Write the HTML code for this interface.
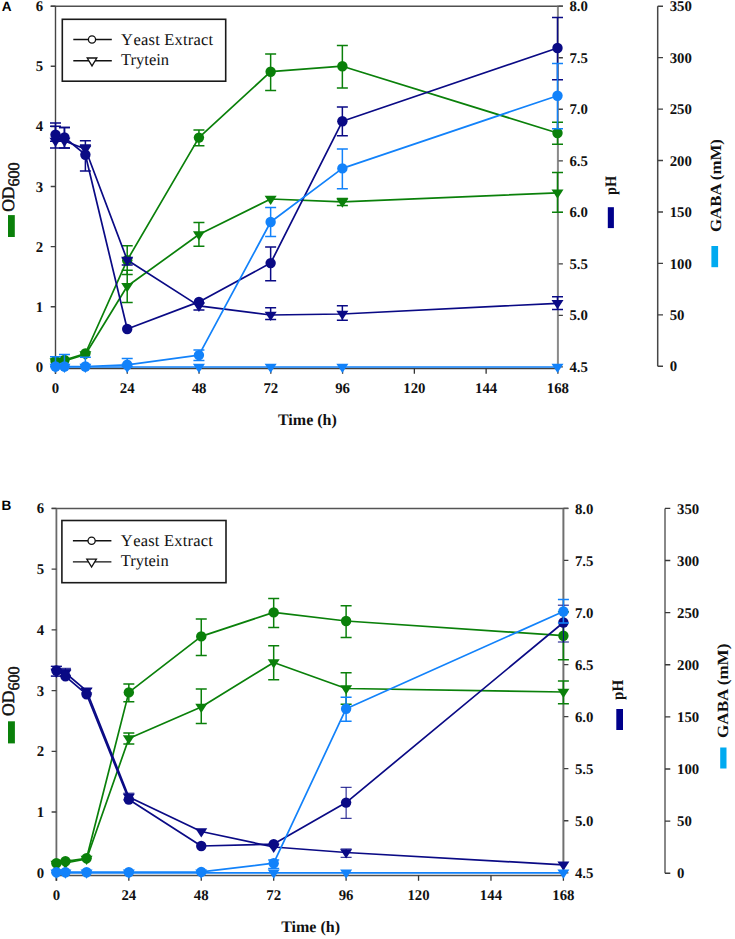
<!DOCTYPE html>
<html><head><meta charset="utf-8"><title>Chart</title>
<style>html,body{margin:0;padding:0;background:#fff;}svg{display:block;}</style>
</head><body>
<svg width="735" height="939" viewBox="0 0 735 939" text-rendering="geometricPrecision">
<rect width="735" height="939" fill="#fff"/>
<g>
<text x="1.8" y="10.8" font-family="Liberation Sans" font-weight="bold" font-size="13.6">A</text>
<path d="M50.7 6.2H557.9" stroke="#505050" stroke-width="1.5" fill="none"/>
<path d="M55.5 6.2V373.8" stroke="#454545" stroke-width="1.4" fill="none"/>
<path d="M55.5 368.5H557.9" stroke="#404040" stroke-width="1.4" fill="none"/>
<path d="M50.7 366.9H55.5M50.7 306.78H55.5M50.7 246.67H55.5M50.7 186.55H55.5M50.7 126.43H55.5M50.7 66.32H55.5M50.7 6.2H55.5" stroke="#404040" stroke-width="1.4" fill="none"/>
<path d="M55.5 368.5V373.8M127.27 368.5V373.8M199.04 368.5V373.8M270.81 368.5V373.8M342.59 368.5V373.8M414.36 368.5V373.8M486.13 368.5V373.8M557.9 368.5V373.8" stroke="#333" stroke-width="1.3" fill="none"/>
<path d="M657.7 6.2V366.3" stroke="#474747" stroke-width="1.5" fill="none"/>
<path d="M657.7 366.3H663M657.7 314.86H663M657.7 263.41H663M657.7 211.97H663M657.7 160.53H663M657.7 109.09H663M657.7 57.64H663M657.7 6.2H663" stroke="#404040" stroke-width="1.4" fill="none"/>
<path d="M557.9 6.2V368.5" stroke="#8a8a8a" stroke-width="2" fill="none"/>
<path d="M558.5 366.9H562.9M558.5 315.37H562.9M558.5 263.84H562.9M558.5 212.31H562.9M558.5 160.79H562.9M558.5 109.26H562.9M558.5 57.73H562.9M558.5 6.2H562.9" stroke="#404040" stroke-width="1.3" fill="none"/>
<path d="M557.4 6.2H562.9" stroke="#505050" stroke-width="1.5" fill="none"/>
<g font-family="Liberation Serif" font-weight="bold" font-size="14.8" fill="#111">
<text x="43.2" y="371.9" text-anchor="end">0</text>
<text x="43.2" y="311.78" text-anchor="end">1</text>
<text x="43.2" y="251.67" text-anchor="end">2</text>
<text x="43.2" y="191.55" text-anchor="end">3</text>
<text x="43.2" y="131.43" text-anchor="end">4</text>
<text x="43.2" y="71.32" text-anchor="end">5</text>
<text x="43.2" y="11.2" text-anchor="end">6</text>
<text x="569.4" y="372">4.5</text>
<text x="569.4" y="320.47">5.0</text>
<text x="569.4" y="268.94">5.5</text>
<text x="569.4" y="217.41">6.0</text>
<text x="569.4" y="165.89">6.5</text>
<text x="569.4" y="114.36">7.0</text>
<text x="569.4" y="62.83">7.5</text>
<text x="569.4" y="11.3">8.0</text>
<text x="669.7" y="371.4">0</text>
<text x="669.7" y="319.96">50</text>
<text x="669.7" y="268.51">100</text>
<text x="669.7" y="217.07">150</text>
<text x="669.7" y="165.63">200</text>
<text x="669.7" y="114.19">250</text>
<text x="669.7" y="62.74">300</text>
<text x="669.7" y="11.3">350</text>
<text x="55.5" y="393.1" text-anchor="middle">0</text>
<text x="127.27" y="393.1" text-anchor="middle">24</text>
<text x="199.04" y="393.1" text-anchor="middle">48</text>
<text x="270.81" y="393.1" text-anchor="middle">72</text>
<text x="342.59" y="393.1" text-anchor="middle">96</text>
<text x="414.36" y="393.1" text-anchor="middle">120</text>
<text x="486.13" y="393.1" text-anchor="middle">144</text>
<text x="557.9" y="393.1" text-anchor="middle">168</text>
</g>
<text x="307.4" y="424.6" font-family="Liberation Serif" font-weight="bold" font-size="16" text-anchor="middle" fill="#111">Time (h)</text>
</g>
<polyline points="55.5,361.5 64.46,361 85.38,354.5 127.21,286.3 198.93,234.5 270.64,199 342.36,201.8 557.5,192.8" fill="none" stroke="#0a800a" stroke-width="1.7" stroke-linejoin="round"/>
<path d="M127.21 270.2V302.5M121.71 270.2H132.71M121.71 302.5H132.71M198.93 222.5V246.3M193.43 222.5H204.43M193.43 246.3H204.43M342.36 198.5V205.5M336.86 198.5H347.86M336.86 205.5H347.86M557.5 172.5V212.3M552 172.5H563M552 212.3H563" stroke="#0a800a" stroke-width="1.5" fill="none"/>
<path d="M49.5 358.2H61.5L55.5 367.5Z" fill="#0a800a"/><path d="M58.46 357.7H70.46L64.46 367Z" fill="#0a800a"/><path d="M79.38 351.2H91.38L85.38 360.5Z" fill="#0a800a"/><path d="M121.21 283H133.21L127.21 292.3Z" fill="#0a800a"/><path d="M192.93 231.2H204.93L198.93 240.5Z" fill="#0a800a"/><path d="M264.64 195.7H276.64L270.64 205Z" fill="#0a800a"/><path d="M336.36 198.5H348.36L342.36 207.8Z" fill="#0a800a"/><path d="M551.5 189.5H563.5L557.5 198.8Z" fill="#0a800a"/>
<polyline points="55.5,361 64.46,360 85.38,353.5 127.21,260.2 198.93,137.6 270.64,71.7 342.36,66.2 557.5,133" fill="none" stroke="#0a800a" stroke-width="1.7" stroke-linejoin="round"/>
<path d="M127.21 245.8V274.6M121.71 245.8H132.71M121.71 274.6H132.71M198.93 130.1V145.7M193.43 130.1H204.43M193.43 145.7H204.43M270.64 54.1V90.6M265.14 54.1H276.14M265.14 90.6H276.14M342.36 45.4V87.9M336.86 45.4H347.86M336.86 87.9H347.86M557.5 122.3V144.3M552 122.3H563M552 144.3H563" stroke="#0a800a" stroke-width="1.5" fill="none"/>
<circle cx="55.5" cy="361" r="5.2" fill="#0a800a"/><circle cx="64.46" cy="360" r="5.2" fill="#0a800a"/><circle cx="85.38" cy="353.5" r="5.2" fill="#0a800a"/><circle cx="127.21" cy="260.2" r="5.2" fill="#0a800a"/><circle cx="198.93" cy="137.6" r="5.2" fill="#0a800a"/><circle cx="270.64" cy="71.7" r="5.2" fill="#0a800a"/><circle cx="342.36" cy="66.2" r="5.2" fill="#0a800a"/><circle cx="557.5" cy="133" r="5.2" fill="#0a800a"/>
<polyline points="55.5,141 64.46,141 85.38,149 127.21,260 198.93,305.9 270.64,315 342.36,314 557.5,303.3" fill="none" stroke="#0a0a85" stroke-width="1.7" stroke-linejoin="round"/>
<path d="M55.5 126.2V141.2M50 126.2H61M50 141.2H61M64.46 127.4V147.9M58.96 127.4H69.96M58.96 147.9H69.96M85.38 144.9V145.7M79.88 144.9H90.88M79.88 145.7H90.88M127.21 258V265M121.71 258H132.71M121.71 265H132.71M198.93 303V309.9M193.43 303H204.43M193.43 309.9H204.43M270.64 307.8V319.6M265.14 307.8H276.14M265.14 319.6H276.14M342.36 305.7V320.2M336.86 305.7H347.86M336.86 320.2H347.86M557.5 296.7V309.5M552 296.7H563M552 309.5H563" stroke="#0a0a85" stroke-width="1.5" fill="none"/>
<path d="M49.5 137.7H61.5L55.5 147Z" fill="#0a0a85"/><path d="M58.46 137.7H70.46L64.46 147Z" fill="#0a0a85"/><path d="M79.38 145.7H91.38L85.38 155Z" fill="#0a0a85"/><path d="M121.21 256.7H133.21L127.21 266Z" fill="#0a0a85"/><path d="M192.93 302.6H204.93L198.93 311.9Z" fill="#0a0a85"/><path d="M264.64 311.7H276.64L270.64 321Z" fill="#0a0a85"/><path d="M336.36 310.7H348.36L342.36 320Z" fill="#0a0a85"/><path d="M551.5 300H563.5L557.5 309.3Z" fill="#0a0a85"/>
<polyline points="55.5,134.8 64.46,137.5 85.38,154.7 127.21,329 198.93,301.9 270.64,263.1 342.36,121.3 557.5,48" fill="none" stroke="#0a0a85" stroke-width="1.7" stroke-linejoin="round"/>
<path d="M55.5 122.9V147.9M50 122.9H61M50 147.9H61M64.46 127.4V147.9M58.96 127.4H69.96M58.96 147.9H69.96M85.38 140.8V171.1M79.88 140.8H90.88M79.88 171.1H90.88M270.64 246.9V280.7M265.14 246.9H276.14M265.14 280.7H276.14M342.36 106.9V135.8M336.86 106.9H347.86M336.86 135.8H347.86M557.5 17.5V79.7M552 17.5H563M552 79.7H563" stroke="#0a0a85" stroke-width="1.5" fill="none"/>
<circle cx="55.5" cy="134.8" r="5.2" fill="#0a0a85"/><circle cx="64.46" cy="137.5" r="5.2" fill="#0a0a85"/><circle cx="85.38" cy="154.7" r="5.2" fill="#0a0a85"/><circle cx="127.21" cy="329" r="5.2" fill="#0a0a85"/><circle cx="198.93" cy="301.9" r="5.2" fill="#0a0a85"/><circle cx="270.64" cy="263.1" r="5.2" fill="#0a0a85"/><circle cx="342.36" cy="121.3" r="5.2" fill="#0a0a85"/><circle cx="557.5" cy="48" r="5.2" fill="#0a0a85"/>
<polyline points="55.5,367 64.46,367 85.38,367 127.21,367 198.93,367 270.64,367 342.36,367 557.5,367" fill="none" stroke="#1282fa" stroke-width="1.7" stroke-linejoin="round"/>

<path d="M49.5 363.7H61.5L55.5 373Z" fill="#1282fa"/><path d="M58.46 363.7H70.46L64.46 373Z" fill="#1282fa"/><path d="M79.38 363.7H91.38L85.38 373Z" fill="#1282fa"/><path d="M121.21 363.7H133.21L127.21 373Z" fill="#1282fa"/><path d="M192.93 363.7H204.93L198.93 373Z" fill="#1282fa"/><path d="M264.64 363.7H276.64L270.64 373Z" fill="#1282fa"/><path d="M336.36 363.7H348.36L342.36 373Z" fill="#1282fa"/><path d="M551.5 363.7H563.5L557.5 373Z" fill="#1282fa"/>
<polyline points="55.5,366.5 64.46,366.5 85.38,366.5 127.21,364.8 198.93,355.1 270.64,222 342.36,168.4 557.5,95.7" fill="none" stroke="#1282fa" stroke-width="1.7" stroke-linejoin="round"/>
<path d="M55.5 356.7V366.5M50 356.7H61M50 366.5H61M64.46 354.5V366.5M58.96 354.5H69.96M58.96 366.5H69.96M85.38 357.3V366.5M79.88 357.3H90.88M79.88 366.5H90.88M127.21 358.4V366.5M121.71 358.4H132.71M121.71 366.5H132.71M198.93 350V360.5M193.43 350H204.43M193.43 360.5H204.43M270.64 207.4V236.5M265.14 207.4H276.14M265.14 236.5H276.14M342.36 149V188.8M336.86 149H347.86M336.86 188.8H347.86M557.5 63.4V128.7M552 63.4H563M552 128.7H563" stroke="#1282fa" stroke-width="1.5" fill="none"/>
<circle cx="55.5" cy="366.5" r="5.2" fill="#1282fa"/><circle cx="64.46" cy="366.5" r="5.2" fill="#1282fa"/><circle cx="85.38" cy="366.5" r="5.2" fill="#1282fa"/><circle cx="127.21" cy="364.8" r="5.2" fill="#1282fa"/><circle cx="198.93" cy="355.1" r="5.2" fill="#1282fa"/><circle cx="270.64" cy="222" r="5.2" fill="#1282fa"/><circle cx="342.36" cy="168.4" r="5.2" fill="#1282fa"/><circle cx="557.5" cy="95.7" r="5.2" fill="#1282fa"/>
<rect x="62.3" y="19.3" width="163.4" height="61.9" fill="#fff" stroke="#1a1a1a" stroke-width="1.6"/>
<path d="M73.3 39.5H111.8M73.3 60.7H111.8" stroke="#111" stroke-width="1.4"/>
<circle cx="92" cy="39.5" r="3.6" fill="#fff" stroke="#111" stroke-width="1.3"/>
<path d="M87.2 58H96.8L92 65.9Z" fill="#fff" stroke="#111" stroke-width="1.3"/>
<g font-family="Liberation Serif" font-size="16.5" fill="#111">
<text x="121.1" y="45" letter-spacing="0.2">Y<tspan dx="2">east Extract</tspan></text>
<text x="121.1" y="65.2">Trytein</text>
</g>
<g>
<text x="1.6" y="509.8" font-family="Liberation Sans" font-weight="bold" font-size="13.6">B</text>
<path d="M51.6 508.4H563.4" stroke="#555" stroke-width="1.5" fill="none"/>
<path d="M56.4 508.4V880.8" stroke="#6a6a6a" stroke-width="1.8" fill="none"/>
<path d="M56.4 875.5H563.4" stroke="#505050" stroke-width="1.5" fill="none"/>
<path d="M51.6 872.8H56.4M51.6 812.07H56.4M51.6 751.33H56.4M51.6 690.6H56.4M51.6 629.87H56.4M51.6 569.13H56.4M51.6 508.4H56.4" stroke="#404040" stroke-width="1.4" fill="none"/>
<path d="M56.4 875.5V880.8M128.83 875.5V880.8M201.26 875.5V880.8M273.69 875.5V880.8M346.11 875.5V880.8M418.54 875.5V880.8M490.97 875.5V880.8M563.4 875.5V880.8" stroke="#333" stroke-width="1.3" fill="none"/>
<path d="M665 508.4V873.3" stroke="#888" stroke-width="2" fill="none"/>
<path d="M665 873.3H670.3M665 821.17H670.3M665 769.04H670.3M665 716.91H670.3M665 664.79H670.3M665 612.66H670.3M665 560.53H670.3M665 508.4H670.3" stroke="#383838" stroke-width="1.4" fill="none"/>
<path d="M563.4 508.4V875.5" stroke="#707070" stroke-width="2" fill="none"/>
<path d="M564 872.8H568.4M564 820.74H568.4M564 768.69H568.4M564 716.63H568.4M564 664.57H568.4M564 612.51H568.4M564 560.46H568.4M564 508.4H568.4" stroke="#404040" stroke-width="1.3" fill="none"/>
<path d="M562.9 508.4H568.4" stroke="#555" stroke-width="1.5" fill="none"/>
<g font-family="Liberation Serif" font-weight="bold" font-size="14.8" fill="#111">
<text x="44.1" y="877.8" text-anchor="end">0</text>
<text x="44.1" y="817.07" text-anchor="end">1</text>
<text x="44.1" y="756.33" text-anchor="end">2</text>
<text x="44.1" y="695.6" text-anchor="end">3</text>
<text x="44.1" y="634.87" text-anchor="end">4</text>
<text x="44.1" y="574.13" text-anchor="end">5</text>
<text x="44.1" y="513.4" text-anchor="end">6</text>
<text x="574.9" y="877.9">4.5</text>
<text x="574.9" y="825.84">5.0</text>
<text x="574.9" y="773.79">5.5</text>
<text x="574.9" y="721.73">6.0</text>
<text x="574.9" y="669.67">6.5</text>
<text x="574.9" y="617.61">7.0</text>
<text x="574.9" y="565.56">7.5</text>
<text x="574.9" y="513.5">8.0</text>
<text x="677" y="878.4">0</text>
<text x="677" y="826.27">50</text>
<text x="677" y="774.14">100</text>
<text x="677" y="722.01">150</text>
<text x="677" y="669.89">200</text>
<text x="677" y="617.76">250</text>
<text x="677" y="565.63">300</text>
<text x="677" y="513.5">350</text>
<text x="56.4" y="900.1" text-anchor="middle">0</text>
<text x="128.83" y="900.1" text-anchor="middle">24</text>
<text x="201.26" y="900.1" text-anchor="middle">48</text>
<text x="273.69" y="900.1" text-anchor="middle">72</text>
<text x="346.11" y="900.1" text-anchor="middle">96</text>
<text x="418.54" y="900.1" text-anchor="middle">120</text>
<text x="490.97" y="900.1" text-anchor="middle">144</text>
<text x="563.4" y="900.1" text-anchor="middle">168</text>
</g>
<text x="310.6" y="932.3" font-family="Liberation Serif" font-weight="bold" font-size="16" text-anchor="middle" fill="#111">Time (h)</text>
</g>
<polyline points="56.4,864 65.45,863 86.58,859 128.83,738.5 201.26,707 273.69,662.5 346.11,688.5 563.4,692" fill="none" stroke="#0a800a" stroke-width="1.7" stroke-linejoin="round"/>
<path d="M128.83 732.9V743.9M123.33 732.9H134.33M123.33 743.9H134.33M201.26 688.9V723.4M195.76 688.9H206.76M195.76 723.4H206.76M273.69 645.8V679.8M268.19 645.8H279.19M268.19 679.8H279.19M346.11 672.8V704.2M340.61 672.8H351.61M340.61 704.2H351.61M563.4 681.1V703.8M557.9 681.1H568.9M557.9 703.8H568.9" stroke="#0a800a" stroke-width="1.5" fill="none"/>
<path d="M50.4 860.7H62.4L56.4 870Z" fill="#0a800a"/><path d="M59.45 859.7H71.45L65.45 869Z" fill="#0a800a"/><path d="M80.58 855.7H92.58L86.58 865Z" fill="#0a800a"/><path d="M122.83 735.2H134.83L128.83 744.5Z" fill="#0a800a"/><path d="M195.26 703.7H207.26L201.26 713Z" fill="#0a800a"/><path d="M267.69 659.2H279.69L273.69 668.5Z" fill="#0a800a"/><path d="M340.11 685.2H352.11L346.11 694.5Z" fill="#0a800a"/><path d="M557.4 688.7H569.4L563.4 698Z" fill="#0a800a"/>
<polyline points="56.4,863.2 65.45,861.3 86.58,858.3 128.83,692.4 201.26,636.4 273.69,612.4 346.11,621 563.4,635.7" fill="none" stroke="#0a800a" stroke-width="1.7" stroke-linejoin="round"/>
<path d="M128.83 684.1V701.7M123.33 684.1H134.33M123.33 701.7H134.33M201.26 618.9V655.4M195.76 618.9H206.76M195.76 655.4H206.76M273.69 598.4V627.4M268.19 598.4H279.19M268.19 627.4H279.19M346.11 605.7V637.5M340.61 605.7H351.61M340.61 637.5H351.61M563.4 611.7V659.7M557.9 611.7H568.9M557.9 659.7H568.9" stroke="#0a800a" stroke-width="1.5" fill="none"/>
<circle cx="56.4" cy="863.2" r="5.2" fill="#0a800a"/><circle cx="65.45" cy="861.3" r="5.2" fill="#0a800a"/><circle cx="86.58" cy="858.3" r="5.2" fill="#0a800a"/><circle cx="128.83" cy="692.4" r="5.2" fill="#0a800a"/><circle cx="201.26" cy="636.4" r="5.2" fill="#0a800a"/><circle cx="273.69" cy="612.4" r="5.2" fill="#0a800a"/><circle cx="346.11" cy="621" r="5.2" fill="#0a800a"/><circle cx="563.4" cy="635.7" r="5.2" fill="#0a800a"/>
<polyline points="56.4,672 65.45,673 86.58,690.8 128.83,797 201.26,831.5 273.69,847 346.11,852.5 563.4,864.8" fill="none" stroke="#0a0a85" stroke-width="1.7" stroke-linejoin="round"/>
<path d="M56.4 666.3V676.1M50.9 666.3H61.9M50.9 676.1H61.9M65.45 668.3V676M59.95 668.3H70.95M59.95 676H70.95M86.58 688.6V693M81.08 688.6H92.08M81.08 693H92.08M128.83 793.2V800M123.33 793.2H134.33M123.33 800H134.33M346.11 849V857.3M340.61 849H351.61M340.61 857.3H351.61" stroke="#0a0a85" stroke-width="1.0" fill="none"/>
<path d="M50.4 668.7H62.4L56.4 678Z" fill="#0a0a85"/><path d="M59.45 669.7H71.45L65.45 679Z" fill="#0a0a85"/><path d="M80.58 687.5H92.58L86.58 696.8Z" fill="#0a0a85"/><path d="M122.83 793.7H134.83L128.83 803Z" fill="#0a0a85"/><path d="M195.26 828.2H207.26L201.26 837.5Z" fill="#0a0a85"/><path d="M267.69 843.7H279.69L273.69 853Z" fill="#0a0a85"/><path d="M340.11 849.2H352.11L346.11 858.5Z" fill="#0a0a85"/><path d="M557.4 861.5H569.4L563.4 870.8Z" fill="#0a0a85"/>
<polyline points="56.4,670.5 65.45,676.3 86.58,694.3 128.83,799.5 201.26,846 273.69,844.1 346.11,802.6 563.4,622.5" fill="none" stroke="#0a0a85" stroke-width="1.7" stroke-linejoin="round"/>
<path d="M56.4 666.3V676.1M50.9 666.3H61.9M50.9 676.1H61.9M65.45 669.6V676M59.95 669.6H70.95M59.95 676H70.95M346.11 787.3V818.3M340.61 787.3H351.61M340.61 818.3H351.61M563.4 605.2V642M557.9 605.2H568.9M557.9 642H568.9" stroke="#0a0a85" stroke-width="1.0" fill="none"/>
<circle cx="56.4" cy="670.5" r="5.2" fill="#0a0a85"/><circle cx="65.45" cy="676.3" r="5.2" fill="#0a0a85"/><circle cx="86.58" cy="694.3" r="5.2" fill="#0a0a85"/><circle cx="128.83" cy="799.5" r="5.2" fill="#0a0a85"/><circle cx="201.26" cy="846" r="5.2" fill="#0a0a85"/><circle cx="273.69" cy="844.1" r="5.2" fill="#0a0a85"/><circle cx="346.11" cy="802.6" r="5.2" fill="#0a0a85"/><circle cx="563.4" cy="622.5" r="5.2" fill="#0a0a85"/>
<polyline points="56.4,872.8 65.45,872.8 86.58,872.8 128.83,872.8 201.26,872.8 273.69,872.8 346.11,872.8 563.4,872.8" fill="none" stroke="#1282fa" stroke-width="1.7" stroke-linejoin="round"/>

<path d="M50.4 869.5H62.4L56.4 878.8Z" fill="#1282fa"/><path d="M59.45 869.5H71.45L65.45 878.8Z" fill="#1282fa"/><path d="M80.58 869.5H92.58L86.58 878.8Z" fill="#1282fa"/><path d="M122.83 869.5H134.83L128.83 878.8Z" fill="#1282fa"/><path d="M195.26 869.5H207.26L201.26 878.8Z" fill="#1282fa"/><path d="M267.69 869.5H279.69L273.69 878.8Z" fill="#1282fa"/><path d="M340.11 869.5H352.11L346.11 878.8Z" fill="#1282fa"/><path d="M557.4 869.5H569.4L563.4 878.8Z" fill="#1282fa"/>
<polyline points="56.4,872.2 65.45,872.2 86.58,872.2 128.83,872.2 201.26,871.9 273.69,863.2 346.11,708.7 563.4,611.5" fill="none" stroke="#1282fa" stroke-width="1.7" stroke-linejoin="round"/>
<path d="M273.69 859.9V868.5M268.19 859.9H279.19M268.19 868.5H279.19M346.11 697.2V721.3M340.61 697.2H351.61M340.61 721.3H351.61M563.4 599.4V623M557.9 599.4H568.9M557.9 623H568.9" stroke="#1282fa" stroke-width="1.5" fill="none"/>
<circle cx="56.4" cy="872.2" r="5.2" fill="#1282fa"/><circle cx="65.45" cy="872.2" r="5.2" fill="#1282fa"/><circle cx="86.58" cy="872.2" r="5.2" fill="#1282fa"/><circle cx="128.83" cy="872.2" r="5.2" fill="#1282fa"/><circle cx="201.26" cy="871.9" r="5.2" fill="#1282fa"/><circle cx="273.69" cy="863.2" r="5.2" fill="#1282fa"/><circle cx="346.11" cy="708.7" r="5.2" fill="#1282fa"/><circle cx="563.4" cy="611.5" r="5.2" fill="#1282fa"/>
<rect x="61.9" y="520.5" width="164.1" height="62.2" fill="#fff" stroke="#1a1a1a" stroke-width="1.6"/>
<path d="M72.9 540.7H111.4M72.9 561.9H111.4" stroke="#111" stroke-width="1.4"/>
<circle cx="91.6" cy="540.7" r="3.6" fill="#fff" stroke="#111" stroke-width="1.3"/>
<path d="M86.8 559.2H96.4L91.6 567.1Z" fill="#fff" stroke="#111" stroke-width="1.3"/>
<g font-family="Liberation Serif" font-size="16.5" fill="#111">
<text x="120.7" y="546.2" letter-spacing="0.2">Y<tspan dx="2">east Extract</tspan></text>
<text x="120.7" y="566.4">Trytein</text>
</g>
<text transform="translate(13.9 211.8) rotate(-90)" font-family="Liberation Serif" font-weight="normal" font-size="17.5" text-anchor="start" fill="#111" stroke="#111" stroke-width="0.5">OD<tspan font-size="16" dy="5.2">600</tspan></text>
<rect x="8" y="215.1" width="6.8" height="21.9" fill="#0a800a"/>
<text transform="translate(615.7 194.9) rotate(-90)" font-family="Liberation Serif" font-weight="bold" font-size="16" text-anchor="start" fill="#111" textLength="19" lengthAdjust="spacingAndGlyphs">pH</text>
<rect x="607.8" y="207.2" width="6.1" height="20.9" fill="#00008b"/>
<text transform="translate(720.6 232) rotate(-90)" font-family="Liberation Serif" font-weight="bold" font-size="15.6" text-anchor="start" fill="#111" textLength="92.9" lengthAdjust="spacingAndGlyphs">GABA (mM)</text>
<rect x="711.4" y="246" width="6.7" height="21.2" fill="#00aaf0"/>
<text transform="translate(13.9 715.9) rotate(-90)" font-family="Liberation Serif" font-weight="normal" font-size="17.5" text-anchor="start" fill="#111" stroke="#111" stroke-width="0.5">OD<tspan font-size="16" dy="5.2">600</tspan></text>
<rect x="8" y="721.3" width="6.9" height="22.1" fill="#0a800a"/>
<text transform="translate(622.6 699.9) rotate(-90)" font-family="Liberation Serif" font-weight="bold" font-size="16" text-anchor="start" fill="#111" textLength="20.1" lengthAdjust="spacingAndGlyphs">pH</text>
<rect x="616.3" y="709" width="6.7" height="21" fill="#00008b"/>
<text transform="translate(727.7 737.9) rotate(-90)" font-family="Liberation Serif" font-weight="bold" font-size="15.6" text-anchor="start" fill="#111" textLength="94.3" lengthAdjust="spacingAndGlyphs">GABA (mM)</text>
<rect x="720.2" y="747.5" width="6.3" height="21" fill="#00aaf0"/>
</svg>
</body></html>
